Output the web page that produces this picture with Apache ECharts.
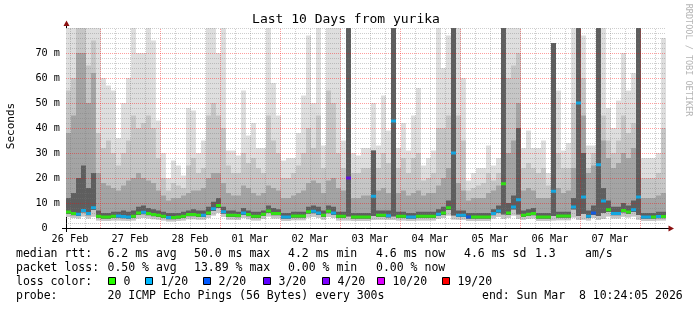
<!DOCTYPE html>
<html><head><meta charset="utf-8">
<script src="https://cdn.jsdelivr.net/npm/echarts@6/dist/echarts.min.js"></script>
<style>html,body{margin:0;padding:0;background:#fff}#c{width:697px;height:310px}</style>
</head><body><div id="c"></div>
<script>
// time: hours after 26 Feb 00:00 ; graph covers 26 Feb 10:24 .. 08 Mar 10:24
const startHour = 10.4;
const endHour = 250.4;
const binHours = 2;

// median rtt per 2h bin (ms)
const med = [
 6.4,5.8,5.5,7.0,5.8,8.1,4.7,4.4,4.4,4.7,
 4.8,4.6,4.4,4.7,6.0,6.3,5.8,5.4,5.1,4.7,
 4.2,4.2,4.4,4.7,5.4,5.4,5.1,5.1,6.0,7.7,
 9.0,6.5,5.1,5.1,5.0,6.0,5.4,4.7,4.7,5.5,
 6.8,5.8,5.8,4.4,4.4,4.8,4.8,4.8,6.5,6.7,
 6.0,5.1,6.7,6.0,4.7,4.7,20.0,4.4,4.4,4.4,
 4.4,12.7,5.1,5.1,4.9,42.8,4.7,4.7,4.4,4.4,
 4.7,4.7,4.7,4.7,5.5,6.0,8.1,30.0,5.1,5.1,
 4.4,4.4,4.4,4.4,4.4,5.8,6.8,17.7,6.0,8.4,
 11.3,5.1,5.5,5.8,4.4,4.4,4.4,14.7,4.8,4.8,
 4.8,8.4,50.0,12.4,4.7,6.0,25.3,10.8,7.3,5.8,
 5.8,7.0,6.4,7.3,12.4,4.4,4.4,4.4,4.6,4.6
];
// loss colour index per bin (0 = 0/20, 1 = 1/20, 2 = 2/20, 3 = 3/20 ...)
const lossIdx = [
 0,0,1,1,1,1,0,0,0,0,
 1,1,1,0,0,1,0,0,0,0,
 1,0,0,0,0,0,0,1,0,1,
 0,1,0,0,0,1,0,0,0,0,
 0,0,0,1,1,0,0,0,0,1,
 1,0,0,1,0,0,3,0,0,0,
 0,1,0,0,1,1,0,0,1,1,
 0,0,0,0,1,0,0,1,1,1,
 2,0,0,0,0,1,1,0,0,1,
 1,0,0,0,0,0,0,1,0,0,
 0,1,1,1,1,2,1,1,0,1,
 1,0,0,1,1,1,1,0,1,0
];
// smoke: lowest ping
const pMin = [
 4.4,4.0,3.8,4.6,3.8,4.5,3.0,2.8,2.8,3.0,
 3.0,2.9,2.8,3.0,3.8,4.0,3.8,3.5,3.3,3.0,
 2.6,2.6,2.8,3.0,3.5,3.5,3.3,3.3,4.0,5.0,
 6.0,4.4,3.3,3.3,3.2,4.0,3.5,3.0,3.0,3.6,
 4.6,3.8,3.8,2.8,2.8,3.1,3.1,3.1,4.2,4.4,
 4.0,3.3,4.4,4.0,3.0,3.0,3.0,2.8,2.8,2.8,
 2.8,3.2,3.3,3.3,3.2,3.2,3.0,3.0,2.8,2.8,
 3.0,3.0,3.0,3.0,3.6,4.0,5.0,3.4,3.3,3.3,
 2.8,2.8,2.8,2.8,2.8,3.8,4.4,3.6,4.0,5.0,
 3.6,3.3,3.6,3.8,2.8,2.8,2.8,3.0,3.1,3.1,
 3.1,4.2,3.2,3.3,3.0,4.0,3.2,3.6,4.6,3.8,
 3.8,4.5,4.2,4.6,3.3,2.8,2.8,2.8,3.0,3.0
];
// smoke: lower inner ping
const pLow = [
 5.6,5.1,4.8,6.2,5.1,7.2,4.0,3.7,3.7,4.0,
 4.1,3.9,3.7,4.0,5.2,5.5,5.1,4.7,4.4,4.0,
 3.5,3.5,3.7,4.0,4.7,4.7,4.4,4.4,5.2,6.8,
 8.0,5.7,4.4,4.4,4.3,5.2,4.7,4.0,4.0,4.8,
 6.0,5.1,5.1,3.7,3.7,4.1,4.1,4.1,5.7,5.9,
 5.2,4.4,5.9,5.2,4.0,4.0,4.6,3.7,3.7,3.7,
 3.7,4.8,4.4,4.4,4.2,4.6,4.0,4.0,3.7,3.7,
 4.0,4.0,4.0,4.0,4.8,5.2,7.2,5.0,4.4,4.4,
 3.7,3.7,3.7,3.7,3.7,5.1,6.0,5.4,5.2,7.4,
 5.4,4.4,4.8,5.1,3.7,3.7,3.7,4.8,4.1,4.1,
 4.1,7.4,4.8,5.6,4.0,5.2,4.8,6.0,6.4,5.1,
 5.1,6.2,5.6,6.4,5.2,3.7,3.7,3.7,3.9,3.9
];
// smoke: upper inner ping
const pHiInner = [
 12,14,20,25,16,22,7,6,6,6.5,
 6.5,7,6.5,7,8.5,9,8,7.5,7,6.5,
 6,6,6,6.5,7,7.5,7,7,8.5,10.5,
 12,8.5,7,7,6.5,8,7,6.5,6.5,7,
 9,8,7.5,6,6,6.5,6.5,6.5,8.5,9,
 8.5,7,9,8.5,6.5,6.5,80,6,6,6,
 6,31,7,7,7,80,6.5,6.5,6,6,
 6.5,6.5,6.5,6.5,7.5,8.5,11,80,7,7,
 6,6,6,6,6,7.5,9,80,10,13,
 40,7,7.5,8,6,6,6,74,6.5,6.5,
 6.5,12,80,30,7,9,80,16,11,8.5,
 8.5,10,9,11,80,6,6,6,6.5,6.5
];
// smoke: upper middle ping
const pHiMid = [
 38,45,70,70,50,62,22,18,17,16,
 15,17,19,20,22,20,19,18,15,13,
 11,12,12,13,14,15,15,16,20,22,
 22,18,14,13,13,17,16,14,13,14,
 17,16,15,12,12,13,14,15,18,19,
 18,14,19,20,16,15,80,12,12,13,
 13,31,15,16,14,80,14,15,13,14,
 15,13,14,14,17,20,24,80,18,15,
 11,12,12,12,14,15,17,80,30,35,
 50,15,16,15,12,12,12,74,16,14,
 15,24,80,45,22,25,80,35,28,24,
 26,30,28,32,80,12,12,12,13,14
];
// smoke: upper outer ping
const pHiOuter = [
 55,60,80,80,65,75,38,32,35,30,
 25,30,35,45,40,42,45,40,28,20,
 15,18,17,16,25,28,22,24,45,50,
 45,40,25,22,22,30,26,28,24,22,
 45,35,30,20,20,22,25,30,40,32,
 45,24,55,50,30,24,80,22,22,24,
 24,31,24,30,26,80,24,28,22,28,
 30,19,20,22,40,40,45,80,45,35,
 15,16,17,18,22,19,22,80,60,65,
 70,24,26,24,22,24,17,74,30,24,
 24,50,80,60,24,30,80,45,35,30,
 35,45,38,42,80,20,20,20,22,40
];
// smoke: highest ping (clipped at 80)
const pMax = [
 80,80,80,80,80,80,80,60,57,55,
 36,50,60,80,70,70,80,75,43,30,
 20,27,25,21,48,47,30,35,80,80,
 70,80,31,31,29,55,37,42,32,32,
 80,58,45,27,28,28,38,53,77,50,
 80,33,80,80,80,35,80,30,29,32,
 32,50,33,53,39,80,32,42,31,45,
 56,25,28,31,80,64,77,80,80,60,
 19,22,24,24,33,25,28,80,80,80,
 80,32,39,32,32,35,22,74,55,31,
 34,80,80,77,33,33,80,80,48,40,
 51,70,55,62,80,28,28,28,30,76
];

const dayLabels = ['26 Feb','27 Feb','28 Feb','01 Mar','02 Mar','03 Mar','04 Mar','05 Mar','06 Mar','07 Mar'];
const majorY = [10, 20, 30, 40, 50, 60, 70];
const lossColors = ['#26ff00','#00b8ff','#0059ff','#5e00ff','#7e00ff','#dd00ff','#ff0000'];
const lossLabels = ['0','1/20','2/20','3/20','4/20','10/20','19/20'];

const statsRtt = ['6.2 ms avg','50.0 ms max','4.2 ms min','4.6 ms now','4.6 ms sd','1.3','am/s'];
const statsLoss = ['0.50 % avg','13.89 % max','0.00 % min','0.00 % now'];
const probeText = '20 ICMP Echo Pings (56 Bytes) every 300s';
const endText = 'end: Sun Mar  8 10:24:05 2026';
const titleText = 'Last 10 Days from yurika';

const MONO = '"DejaVu Sans Mono", monospace';
const RED = {color: 'rgba(255,0,0,0.38)', type: [1, 1], width: 1};
const GREY = {color: 'rgba(120,120,120,0.36)', type: [1, 1], width: 1};
const bins = med.map((_, i) => String(i));

function band(id, low, high, color) {
  const common = {type: 'bar', stack: id, barCategoryGap: '0%', barGap: '-100%', silent: true, z: 2,
    animation: false, xAxisIndex: 0, yAxisIndex: 0};
  return [
    Object.assign({}, common, {name: id + 'b', data: low.slice(), itemStyle: {color: 'rgba(0,0,0,0)'}}),
    Object.assign({}, common, {name: id + 'f', data: high.map((h, i) => Math.max(0, h - low[i])), itemStyle: {color: color}})
  ];
}

const gridLines = [];
for (let h = 12; h < endHour; h += 6) {
  gridLines.push({xAxis: h, lineStyle: h % 24 === 0 ? RED : GREY});
}
majorY.forEach(v => gridLines.push({yAxis: v, lineStyle: RED}));
gridLines.push({yAxis: 80, lineStyle: GREY});
const labelNoon = dayLabels.map((_, i) => 12 + 24 * i);

const series = [].concat(
  band('A', pMin, pMax, '#dedede'),
  band('B', pMin, pHiOuter, '#c6c6c6'),
  band('C', pLow, pHiMid, '#a4a4a4'),
  band('D', pLow, pHiInner, '#5e5e5e'),
  [{
    type: 'line', name: 'grid', xAxisIndex: 1, yAxisIndex: 0,
    data: [[startHour, 0], [endHour, 0]],
    showSymbol: false, lineStyle: {opacity: 0}, silent: true, z: 3, animation: false,
    markLine: {silent: true, symbol: ['none', 'none'], label: {show: false}, animation: false, data: gridLines}
  },
  {
    type: 'scatter', name: 'median', symbol: 'rect', symbolSize: [5, 3], z: 5, silent: true, animation: false,
    xAxisIndex: 0, yAxisIndex: 0,
    data: med.map((v, i) => ({value: v, itemStyle: {color: lossColors[lossIdx[i]]}}))
  }]
);

const txt = (text, x, y, extra) => ({type: 'text', x: x, y: y, silent: true,
  style: Object.assign({text: text, fill: '#000', font: '11.5px ' + MONO, verticalAlign: 'middle', align: 'left'}, extra || {})});

const rttX = [107.5, 194, 288, 376, 464, 535, 585];
const lossX = [107.5, 194, 288, 376];
const boxX = [108.5, 145.5, 203.5, 263.5, 322.5, 377.5, 442.5];
const graphic = [
  txt(titleText, 346, 20, {font: '13px ' + MONO, align: 'center'}),
  {type: 'text', x: 11, y: 126, rotation: Math.PI / 2, silent: true,
   style: {text: 'Seconds', fill: '#000', font: '11px ' + MONO, align: 'center', verticalAlign: 'middle'}},
  {type: 'text', x: 688, y: 60, rotation: -Math.PI / 2, silent: true,
   style: {text: 'RRDTOOL / TOBI OETIKER', fill: '#b4b4b4', font: '8.5px ' + MONO, align: 'center', verticalAlign: 'middle'}},
  txt('median rtt:', 16, 254),
  txt('packet loss:', 16, 268),
  txt('loss color:', 16, 282),
  txt('probe:', 16, 296),
  txt(probeText, 107.5, 296),
  txt(endText, 482, 296),
  {type: 'line', silent: true, shape: {x1: 62, y1: 228.5, x2: 669, y2: 228.5}, style: {stroke: '#000', lineWidth: 1}},
  {type: 'line', silent: true, shape: {x1: 66.5, y1: 232, x2: 66.5, y2: 24}, style: {stroke: '#000', lineWidth: 1}},
  {type: 'polygon', silent: true, shape: {points: [[66.5, 20.5], [63.5, 26], [69.5, 26]]}, style: {fill: '#8b1010'}},
  {type: 'polygon', silent: true, shape: {points: [[674, 228.5], [668.5, 225.5], [668.5, 231.5]]}, style: {fill: '#8b1010'}}
];
statsRtt.forEach((s, i) => graphic.push(txt(s, rttX[i], 254)));
statsLoss.forEach((s, i) => graphic.push(txt(s, lossX[i], 268)));
lossLabels.forEach((s, i) => {
  graphic.push({type: 'rect', silent: true, shape: {x: boxX[i], y: 277.5, width: 7, height: 7},
    style: {fill: lossColors[i], stroke: '#000', lineWidth: 1}});
  graphic.push(txt(s, boxX[i] + 15, 282));
});

const chart = echarts.init(document.getElementById('c'), null, {renderer: 'canvas'});
chart.setOption({
  backgroundColor: '#ffffff',
  animation: false,
  grid: {left: 66, top: 28, width: 600, height: 200, containLabel: false},
  xAxis: [{
    type: 'category', data: bins, boundaryGap: true, show: false
  }, {
    type: 'value', min: startHour, max: endHour, z: 4, position: 'bottom',
    axisLine: {show: false},
    axisTick: {show: false},
    splitLine: {show: false},
    axisLabel: {
      customValues: labelNoon, margin: 6, color: '#000', fontFamily: MONO, fontSize: 10.2,
      formatter: v => dayLabels[Math.round((v - 12) / 24)] || ''
    }
  }],
  yAxis: {
    type: 'value', min: 0, max: 80, interval: 10, z: 4,
    axisLine: {show: false},
    axisTick: {show: false},
    axisLabel: {margin: 6, color: '#000', fontFamily: MONO, fontSize: 10.2,
      formatter: v => v === 0 ? '0  ' : (v >= 80 ? '' : v + ' m')},
    splitLine: {show: false},
    minorTick: {show: false, splitNumber: 5},
    minorSplitLine: {show: true, lineStyle: GREY}
  },
  series: series,
  graphic: graphic
});
</script></body></html>
